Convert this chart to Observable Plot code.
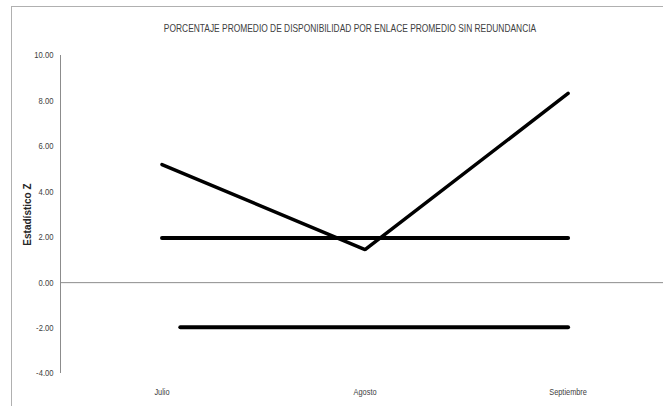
<!DOCTYPE html>
<html>
<head>
<meta charset="utf-8">
<script src="https://cdn.jsdelivr.net/npm/d3@7"></script>
<script src="https://cdn.jsdelivr.net/npm/@observablehq/plot@0.6"></script>
<style>
  html, body { margin: 0; padding: 0; background: #fff; }
  #wrap { position: relative; width: 663px; height: 406px; overflow: hidden; }
  #border { position: absolute; left: 11px; top: 6px; width: 700px; height: 450px;
            border-left: 1px solid #b0b0b0; border-top: 1px solid #b0b0b0; }
  #wrap svg { position: absolute; left: 0; top: 0; }
</style>
</head>
<body>
<div id="wrap"><div id="border"></div></div>
<script>
const months = ["Julio", "Agosto", "Septiembre"];
const monthPos = [0, 1, 2];
const zValues = [5.2, 1.45, 8.33];
const upperLimit = [1.96, 1.96, 1.96];
const lowerLimitPos = [0.09, 1, 2];
const lowerLimit = [-1.96, -1.96, -1.96];
const yTicks = [-4, -2, 0, 2, 4, 6, 8, 10];
const title = "PORCENTAJE PROMEDIO DE DISPONIBILIDAD POR ENLACE PROMEDIO SIN REDUNDANCIA";

const font = "'Liberation Sans', Arial, sans-serif";

const zSeries = monthPos.map((x, i) => ({x, y: zValues[i]}));
const upSeries = monthPos.map((x, i) => ({x, y: upperLimit[i]}));
const lowSeries = lowerLimitPos.map((x, i) => ({x, y: lowerLimit[i]}));

const chart = Plot.plot({
  width: 663,
  height: 406,
  marginTop: 55,
  marginBottom: 33,
  marginLeft: 60,
  marginRight: 0,
  style: {fontFamily: font, fontSize: "9px", color: "#404040", background: "transparent"},
  x: {domain: [-0.5, 2.47], ticks: monthPos, tickFormat: d => months[d], tickSize: 0, tickPadding: 15, label: null},
  y: {domain: [-4, 10], ticks: yTicks, tickFormat: d => d.toFixed(2), tickSize: 0, tickPadding: 7, label: null},
  marks: [
    Plot.ruleX([-0.5], {stroke: "#8c8c8c", strokeWidth: 1}),
    Plot.ruleY([0], {stroke: "#8c8c8c", strokeWidth: 1}),
    Plot.line(upSeries, {x: "x", y: "y", stroke: "#000", strokeWidth: 4, strokeLinecap: "round"}),
    Plot.line(lowSeries, {x: "x", y: "y", stroke: "#000", strokeWidth: 4, strokeLinecap: "round"}),
    Plot.line(zSeries, {x: "x", y: "y", stroke: "#000", strokeWidth: 3.5, strokeLinecap: "round", strokeLinejoin: "miter"}),
    Plot.text([title], {frameAnchor: "top", dy: -31, text: d => d, fontSize: 10.5, fill: "#404040", dx: -12, className: "narrow"}),
    Plot.text(["Estadístico Z"], {frameAnchor: "left", textAnchor: "middle", dx: -33, rotate: -90, text: d => d, fontSize: 10, fontWeight: "bold", fill: "#262626"})
  ]
});
document.getElementById("wrap").appendChild(chart);

// Condense text to imitate the narrow font of the original
const condense = (sel, k) => {
  chart.querySelectorAll(sel).forEach(t => {
    const w = t.getComputedTextLength();
    if (w > 0) {
      t.setAttribute("textLength", (w * k).toFixed(1));
      t.setAttribute("lengthAdjust", "spacingAndGlyphs");
    }
  });
};
condense("g[aria-label='x-axis tick label'] text", 0.82);
condense("g[aria-label='y-axis tick label'] text", 0.85);
condense("g.narrow text", 0.8);
</script>
</body>
</html>
